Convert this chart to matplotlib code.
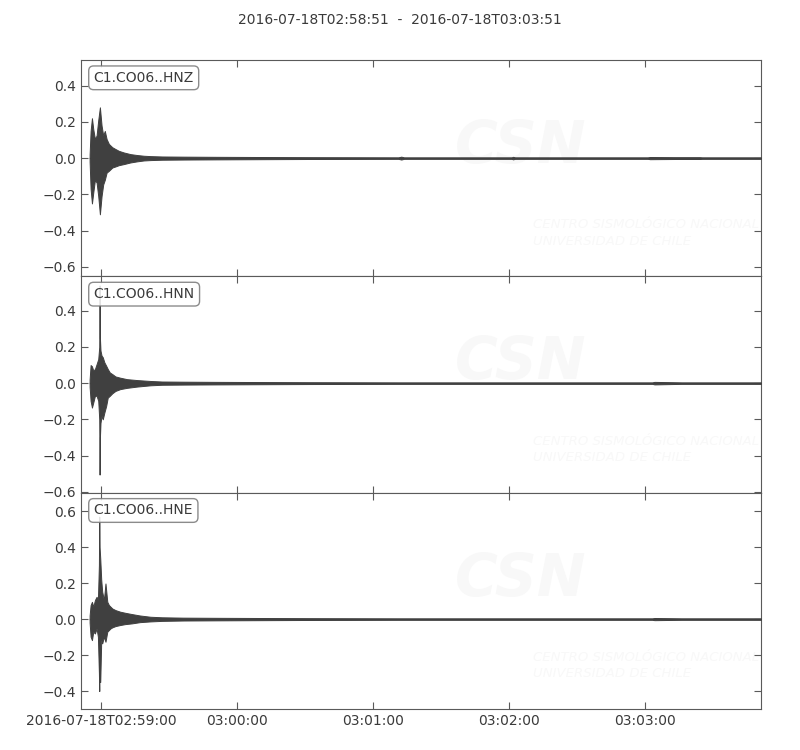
import numpy as np
import matplotlib
matplotlib.use("Agg")
import matplotlib.pyplot as plt
import matplotlib.dates as mdates
from matplotlib.ticker import MultipleLocator, FuncFormatter
from matplotlib import font_manager

# ---------------- data ----------------
start_time = "2016-07-18T02:58:51"
end_time = "2016-07-18T03:03:51"
channels = ["C1.CO06..HNZ", "C1.CO06..HNN", "C1.CO06..HNE"]
tick_times = ["2016-07-18T02:59:00", "2016-07-18T03:00:00", "2016-07-18T03:01:00",
              "2016-07-18T03:02:00", "2016-07-18T03:03:00"]
tick_labels = ["2016-07-18T02:59:00", "03:00:00", "03:01:00", "03:02:00", "03:03:00"]
ylims = [(-0.652, 0.541), (-0.605, 0.59), (-0.50, 0.703)]

# envelope samples: seconds after start, upper peak, lower peak
hnz_t = [3.8, 4.24, 4.83, 5.41, 6.15, 6.88, 7.61, 8.34, 9.07, 9.8, 10.5, 11.3, 12.3, 13.8,
         15.2, 16.7, 18.9, 21.8, 24.7, 27.7, 30.6, 35.7, 45, 60, 80, 100, 140, 141.3, 142.5,
         170, 190, 190.6, 191.5, 230, 250, 251, 262, 273, 274, 300]
hnz_up = [0.02, 0.15, 0.22, 0.16, 0.105, 0.125, 0.21, 0.28, 0.18, 0.125, 0.15, 0.105, 0.078, 0.06,
          0.05, 0.04, 0.031, 0.022, 0.017, 0.013, 0.011, 0.009, 0.008, 0.007, 0.006, 0.005, 0.004, 0.008, 0.004,
          0.004, 0.004, 0.007, 0.004, 0.004, 0.004, 0.006, 0.005, 0.005, 0.004, 0.004]
hnz_lo = [-0.02, -0.17, -0.25, -0.19, -0.12, -0.135, -0.21, -0.31, -0.21, -0.145, -0.12, -0.08, -0.07, -0.052,
          -0.046, -0.039, -0.033, -0.024, -0.018, -0.013, -0.011, -0.009, -0.008, -0.007, -0.006, -0.005, -0.004, -0.008, -0.004,
          -0.004, -0.004, -0.007, -0.004, -0.004, -0.004, -0.006, -0.005, -0.005, -0.004, -0.004]

hnn_t = [3.8, 4.24, 4.83, 5.41, 6.15, 6.88, 7.61, 8.05, 8.2, 8.35, 8.6, 9.07, 9.6, 10.3, 11.1,
         11.8, 12.7, 13.8, 15.2, 17.3, 20.3, 24.7, 30.6, 35.7, 45, 60, 80, 100, 140, 190,
         252, 253, 265, 300]
hnn_up = [0.02, 0.10, 0.093, 0.07, 0.078, 0.105, 0.133, 0.2, 0.54, 0.25, 0.18, 0.152, 0.143, 0.115, 0.096,
          0.078, 0.059, 0.05, 0.037, 0.03, 0.022, 0.017, 0.012, 0.009, 0.008, 0.007, 0.006, 0.005, 0.004, 0.004,
          0.004, 0.007, 0.004, 0.004]
hnn_lo = [-0.02, -0.098, -0.135, -0.107, -0.07, -0.07, -0.098, -0.2, -0.505, -0.3, -0.22, -0.18, -0.2, -0.163, -0.126,
          -0.08, -0.07, -0.056, -0.043, -0.033, -0.026, -0.019, -0.012, -0.009, -0.008, -0.007, -0.006, -0.005, -0.004, -0.004,
          -0.004, -0.007, -0.004, -0.004]

hne_t = [3.8, 4.24, 4.83, 5.41, 6.15, 6.88, 7.46, 7.9, 8.05, 8.2, 8.49, 8.93, 9.36, 10.1, 10.8,
         11.6, 12.3, 13.0, 13.8, 15.2, 17.3, 19.5, 22.4, 26.0, 30.6, 35.7, 45, 60, 80, 100, 140, 190,
         252, 253, 265, 300]
hne_up = [0.02, 0.078, 0.096, 0.069, 0.106, 0.124, 0.106, 0.3, 0.57, 0.4, 0.337, 0.217, 0.152, 0.106, 0.198,
          0.096, 0.078, 0.069, 0.059, 0.05, 0.041, 0.035, 0.028, 0.02, 0.013, 0.01, 0.008, 0.007, 0.006, 0.005, 0.004, 0.004,
          0.004, 0.006, 0.004, 0.004]
hne_lo = [-0.02, -0.098, -0.117, -0.07, -0.08, -0.052, -0.098, -0.3, -0.40, -0.2, -0.35, -0.117, -0.135, -0.098, -0.126,
          -0.07, -0.061, -0.052, -0.046, -0.039, -0.033, -0.028, -0.024, -0.017, -0.013, -0.01, -0.008, -0.007, -0.006, -0.005, -0.004, -0.004,
          -0.004, -0.006, -0.004, -0.004]

traces = [(hnz_t, hnz_up, hnz_lo), (hnn_t, hnn_up, hnn_lo), (hne_t, hne_up, hne_lo)]

# ---------------- drawing ----------------
TXT = "#3a3a3a"
WAVE = "#404040"
SPINE = "#5a5a5a"
WM = "#f8f8f8"

installed = {f.name for f in font_manager.fontManager.ttflist}
wm_family = "Liberation Sans Narrow" if "Liberation Sans Narrow" in installed else "DejaVu Sans"
wm_size = 12 if wm_family == "Liberation Sans Narrow" else 9.5

t0 = np.datetime64(start_time)
def to_dates(sec):
    sec = np.asarray(sec, dtype=float)
    return t0 + (sec * 1000).astype("int64").astype("timedelta64[ms]")

fig = plt.figure(figsize=(8, 7.5), dpi=100)
left, right = 81 / 800, 761 / 800
top_px, bot_px = 60, 709
h_px = (bot_px - top_px) / 3

tick_dates = mdates.date2num(np.array(tick_times, dtype="datetime64[ms]"))
label_map = dict(zip(np.round(tick_dates, 8), tick_labels))

axes = []
for i, (name, (tt, up, lo), yl) in enumerate(zip(channels, traces, ylims)):
    ax_top = top_px + i * h_px
    ax = fig.add_axes([left, 1 - (ax_top + h_px) / 750, right - left, h_px / 750],
                      sharex=axes[0] if axes else None)
    axes.append(ax)
    x = mdates.date2num(to_dates(tt))
    ax.fill_between(x, lo, up, color=WAVE, lw=0.7, edgecolor=WAVE, zorder=3)
    ax.plot(x, np.zeros(len(x)), color=WAVE, lw=1.0, zorder=3)

    # faint watermark
    ax.text(0.55, 0.60, "CSN", transform=ax.transAxes, fontsize=42, fontweight="bold",
            style="italic", color=WM, zorder=1, ha="left", va="center", clip_on=True)
    ax.text(0.665, 0.20, "CENTRO SISMOLÓGICO NACIONAL\nUNIVERSIDAD DE CHILE",
            transform=ax.transAxes, fontsize=wm_size, style="italic", color=WM,
            family=wm_family, zorder=1, ha="left", va="center", linespacing=1.35,
            clip_on=True)

    ax.set_ylim(*yl)
    ax.yaxis.set_major_locator(MultipleLocator(0.2))
    ax.tick_params(direction="in", top=True, right=True, labelsize=10,
                   colors=SPINE, labelcolor=TXT, length=5)
    for s in ax.spines.values():
        s.set_color(SPINE)
    ax.text(0.0185, 0.95, name, transform=ax.transAxes, fontsize=10, color=TXT,
            va="top", ha="left", zorder=5,
            bbox=dict(boxstyle="round,pad=0.35", fc="white", ec="#777777", alpha=0.85))
    if i < 2:
        ax.tick_params(labelbottom=False)

axes[0].set_xlim(mdates.date2num(to_dates([0.0, 300.0])))
axes[0].set_xticks(tick_dates)
axes[-1].xaxis.set_major_formatter(FuncFormatter(lambda v, p: label_map.get(np.round(v, 8), "")))

fig.suptitle(f"{start_time}  -  {end_time}", y=0.983, fontsize=10, color=TXT)
fig.savefig("out.png", dpi=100)
